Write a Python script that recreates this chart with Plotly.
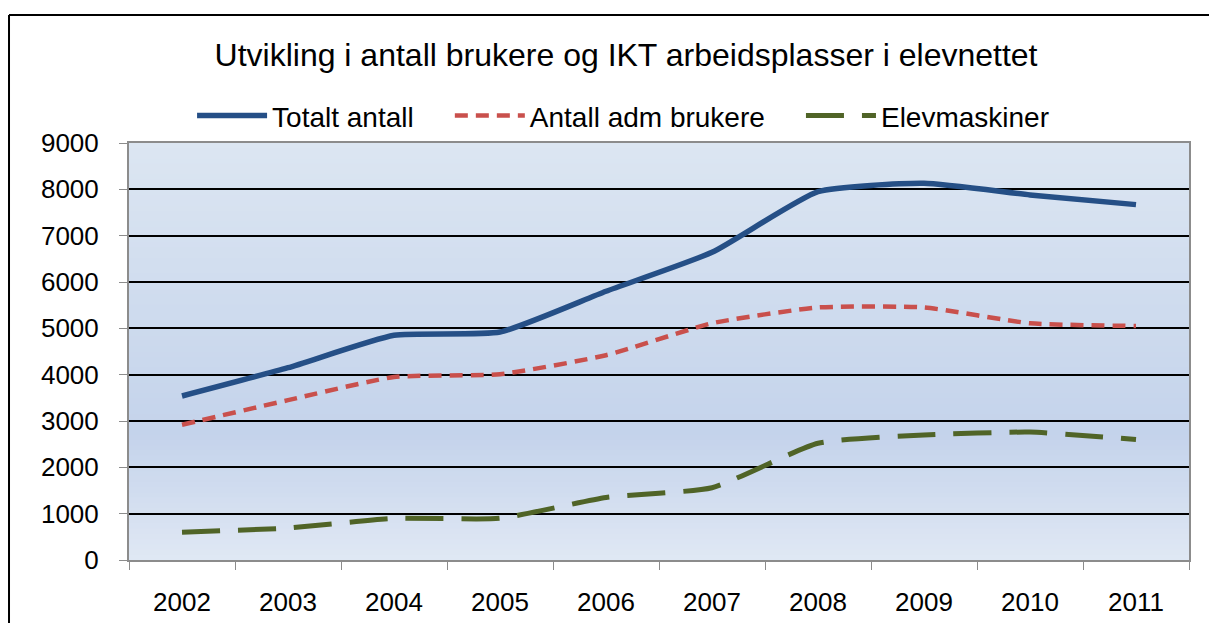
import plotly.graph_objects as go

years = ["2002", "2003", "2004", "2005", "2006", "2007", "2008", "2009", "2010", "2011"]
totalt = [3540, 4150, 4850, 4920, 5800, 6640, 7950, 8130, 7880, 7670]
adm = [2920, 3450, 3950, 4010, 4420, 5110, 5450, 5450, 5110, 5050]
elev = [600, 690, 900, 900, 1350, 1560, 2520, 2700, 2760, 2600]
series_names = ["Totalt antall", "Antall adm brukere", "Elevmaskiner"]

title_text = "Utvikling i antall brukere og IKT arbeidsplasser i elevnettet"
FONT = "Liberation Sans, Arial, sans-serif"
PAD = "\u00a0" * 4

fig = go.Figure()
fig.add_trace(go.Scatter(x=years, y=totalt, name=series_names[0] + PAD, mode="lines",
                         line=dict(color="#254f86", width=5.5, shape="spline", smoothing=0.5)))
fig.add_trace(go.Scatter(x=years, y=adm, name=series_names[1] + PAD, mode="lines",
                         line=dict(color="#c9504c", width=4.5, dash="13px,8px", shape="spline", smoothing=0.5)))
fig.add_trace(go.Scatter(x=years, y=elev, name=series_names[2], mode="lines",
                         line=dict(color="#506427", width=5, dash="38px,18px", shape="spline", smoothing=0.5)))

# background vertical gradient bands
def lerp(a, b, t):
    return tuple(round(a[i] + (b[i] - a[i]) * t) for i in range(3))

stops = [(0.0, (224, 232, 244)), (0.3, (196, 211, 235)), (1.0, (220, 230, 242))]
shapes = []
N = 80
for i in range(N):
    y0 = i / N
    y1 = (i + 1) / N
    ym = (y0 + y1) / 2
    for j in range(len(stops) - 1):
        if stops[j][0] <= ym <= stops[j + 1][0]:
            t = (ym - stops[j][0]) / (stops[j + 1][0] - stops[j][0])
            c = lerp(stops[j][1], stops[j + 1][1], t)
            break
    shapes.append(dict(type="rect", xref="x domain", yref="y domain", x0=0, x1=1,
                       y0=y0, y1=y1 + 0.002, fillcolor="rgb(%d,%d,%d)" % c,
                       line=dict(width=0), layer="below"))
# outer chart border (left and top edges; the rest lies outside the picture)
shapes.append(dict(type="line", xref="paper", yref="paper", x0=-0.1132, x1=1.3,
                   y0=1.307, y1=1.307, line=dict(color="black", width=2)))
shapes.append(dict(type="line", xref="paper", yref="paper", x0=-0.1132, x1=-0.1132,
                   y0=-0.5, y1=1.307, line=dict(color="black", width=2)))

fig.update_layout(
    width=1209, height=623,
    margin=dict(l=129, r=20, t=143, b=63),
    paper_bgcolor="white", plot_bgcolor="rgba(0,0,0,0)",
    font=dict(family=FONT, color="black"),
    title=dict(text=title_text, x=0.5178, xanchor="center", y=0.9117, yanchor="middle",
               font=dict(size=32, family=FONT, color="black")),
    legend=dict(orientation="h", x=0.0595, xanchor="left", y=1.065, yanchor="middle",
                font=dict(size=28, family=FONT), bgcolor="rgba(0,0,0,0)", itemwidth=70),
    shapes=shapes,
    showlegend=True,
)
fig.update_xaxes(type="category", showgrid=False, showline=True, linecolor="#8c8c8c", linewidth=2,
                 mirror=True, ticks="outside", ticklen=8, tickcolor="#8c8c8c", tickson="boundaries",
                 tickfont=dict(size=26, family=FONT), range=[-0.5, 9.5], ticklabelstandoff=18,
                 automargin=False)
fig.update_yaxes(range=[0, 9000], dtick=1000, showgrid=True, gridcolor="black", gridwidth=2,
                 showline=True, linecolor="#8c8c8c", linewidth=2, mirror=True, ticks="outside",
                 ticklen=8, tickcolor="#8c8c8c", tickfont=dict(size=26, family=FONT),
                 zeroline=False, ticklabelstandoff=15, automargin=False)

fig.write_html(
    "out.html",
    config={"displayModeBar": False},
    post_script="document.body.style.margin='0';document.body.style.overflow='hidden';"
                "document.documentElement.style.overflow='hidden';",
)
